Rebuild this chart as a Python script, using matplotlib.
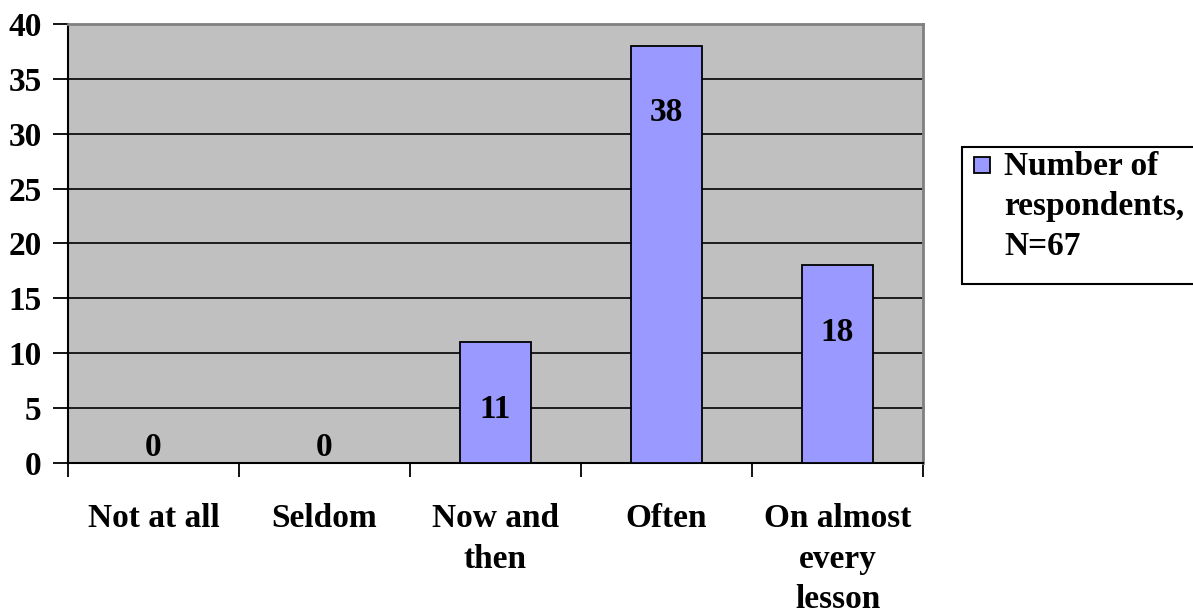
import matplotlib
matplotlib.use("Agg")
import matplotlib.pyplot as plt
from matplotlib.patches import Rectangle

# Survey responses
categories = ["Not at all", "Seldom", "Now and\nthen", "Often", "On almost\nevery\nlesson"]
respondents = [0, 0, 11, 38, 18]
series_label = "Number of\nrespondents,\nN=67"
y_ticks = [0, 5, 10, 15, 20, 25, 30, 35, 40]

BAR_COLOR = "#9999FF"
FS = 24

plt.rcParams["font.family"] = ["Liberation Serif", "DejaVu Serif"]
plt.rcParams["font.weight"] = "bold"

W, H = 1193, 615
fig = plt.figure(figsize=(W / 100, H / 100), dpi=100)
ax = fig.add_axes([68 / W, 1 - 463 / H, (923 - 68) / W, (463 - 24) / H])

ax.set_facecolor("#C0C0C0")
x = list(range(len(categories)))
ax.bar(x, respondents, width=0.41, color=BAR_COLOR, edgecolor="black",
       linewidth=1.3, zorder=3, label=series_label)

ax.set_xlim(-0.5, len(categories) - 0.5)
ax.set_ylim(0, 40)
ax.set_yticks(y_ticks)
ax.set_yticklabels([str(t) for t in y_ticks], fontsize=FS, fontweight="bold")
ax.yaxis.grid(True, color="black", linewidth=1.2, zorder=1)
ax.set_axisbelow(True)

# category ticks on the boundaries, labels centred under each bar
ax.set_xticks([i - 0.5 for i in range(len(categories) + 1)])
ax.set_xticklabels([])
ax.set_xticks(x, minor=True)
ax.set_xticklabels(categories, minor=True, fontsize=FS, fontweight="bold",
                   linespacing=1.4, va="top")
ax.tick_params(axis="x", which="minor", length=0, pad=29)
ax.tick_params(axis="x", which="major", length=10, width=1.3, direction="out")
ax.tick_params(axis="y", length=11, width=1.3, direction="out", pad=8)

for side in ("top", "right"):
    ax.spines[side].set_color("#808080")
    ax.spines[side].set_linewidth(2)
for side in ("left", "bottom"):
    ax.spines[side].set_color("black")
    ax.spines[side].set_linewidth(1.5)

# value labels
for xi, v in zip(x, respondents):
    dy = -67 if v > 0 else 15
    ax.annotate(str(v), (xi, v), xytext=(0, dy), textcoords="offset pixels",
                ha="center", va="center", fontsize=FS, fontweight="bold", zorder=4)

# legend box to the right of the plot
def fx(px):
    return px / W

def fy(py):
    return 1 - py / H

fig.add_artist(Rectangle((fx(962), fy(284)), fx(1240) - fx(962), fy(147) - fy(284),
                         transform=fig.transFigure, facecolor="white",
                         edgecolor="black", linewidth=1.5, clip_on=False))
fig.add_artist(Rectangle((fx(974), fy(173)), fx(990) - fx(974), fy(157) - fy(173),
                         transform=fig.transFigure, facecolor=BAR_COLOR,
                         edgecolor="black", linewidth=1.3))
fig.text(fx(1004), fy(151), series_label, ha="left", va="top",
         fontsize=FS, fontweight="bold", linespacing=1.37)

fig.savefig("out.png", dpi=100, facecolor="white")
